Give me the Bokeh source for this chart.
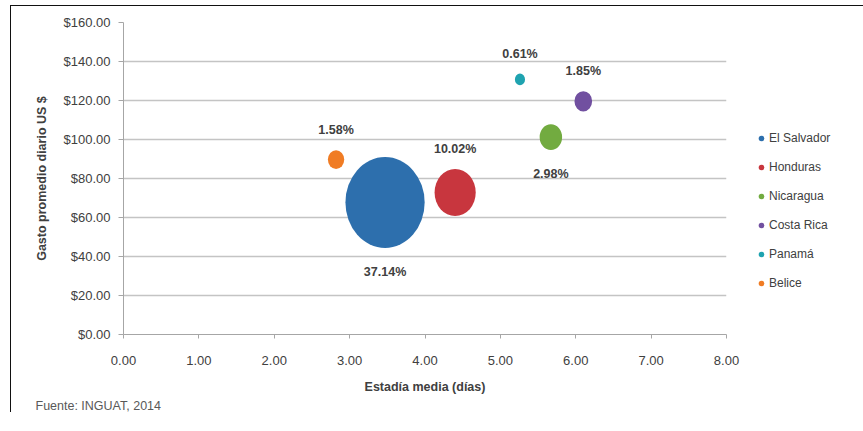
from bokeh.plotting import figure
from bokeh.models import (ColumnDataSource, NumeralTickFormatter, Legend, LegendItem,
                          Title, FixedTicker, Range1d)
from bokeh.embed import file_html
from bokeh.resources import INLINE
from bokeh.core.properties import value
import numpy as np

# ---- data ----
countries = ["El Salvador", "Honduras", "Nicaragua", "Costa Rica", "Panamá", "Belice"]
stay_days = [3.47, 4.40, 5.67, 6.10, 5.26, 2.82]          # Estadía media (días)
daily_spend = [67.7, 72.8, 101.2, 119.6, 130.8, 89.7]     # Gasto promedio diario US $
share_pct = [37.14, 10.02, 2.98, 1.85, 0.61, 1.58]        # bubble size (share %)
share_labels = ["37.14%", "10.02%", "2.98%", "1.85%", "0.61%", "1.58%"]
label_side = ["below", "above", "below", "above", "above", "above"]
colors = ["#2d6fad", "#c8363e", "#72ab40", "#7150a0", "#1fa3b0", "#f07c24"]

x_ticks = [0, 1, 2, 3, 4, 5, 6, 7, 8]
y_ticks = [0, 20, 40, 60, 80, 100, 120, 140, 160]

FONT = "Liberation Sans"

# bubble size scale (area proportional to share), screen pixels
share = np.array(share_pct)
bw = 13.0 * np.sqrt(share)
bh = 14.9 * np.sqrt(share)
yoff = [-(h / 2 + 20) if s == "above" else (h / 2 + 24) for h, s in zip(bh, label_side)]

src = ColumnDataSource(dict(x=stay_days, y=daily_spend, w=bw, h=bh, color=colors,
                            label=share_labels, yoff=yoff, name=countries,
                            zero=[0] * len(countries)))

p = figure(frame_width=603, frame_height=312, x_range=Range1d(0, 8), y_range=Range1d(0, 160),
           output_backend="svg", toolbar_location=None,
           min_border_left=112, min_border_right=128, min_border_top=16, min_border_bottom=30)
p.styles = {"border-left": "1.5px solid #111111", "border-top": "1.5px solid #111111",
            "margin-left": "10px", "margin-top": "5px"}
p.outline_line_color = None
p.background_fill_color = "white"
p.border_fill_color = "white"

# grid
p.xgrid.visible = False
p.ygrid.grid_line_color = "#c4c4c4"
p.ygrid.grid_line_width = 1.5
p.ygrid.ticker = FixedTicker(ticks=y_ticks)

# axes
p.xaxis.ticker = FixedTicker(ticks=x_ticks)
p.yaxis.ticker = FixedTicker(ticks=y_ticks)
p.xaxis.formatter = NumeralTickFormatter(format="0.00")
p.yaxis.formatter = NumeralTickFormatter(format="$0.00")
for ax in (p.xaxis[0], p.yaxis[0]):
    ax.axis_line_color = "#a6a6a6"
    ax.major_tick_line_color = "#a6a6a6"
    ax.minor_tick_line_color = None
    ax.major_tick_in = 0
    ax.major_label_text_font = FONT
    ax.major_label_text_font_size = "13px"
    ax.major_label_text_color = "#404040"
    ax.axis_label_text_font = FONT
    ax.axis_label_text_font_size = "12.5px"
    ax.axis_label_text_font_style = "bold"
    ax.axis_label_text_color = "#404040"
p.yaxis.major_tick_out = 5
p.yaxis.major_label_standoff = 8
p.yaxis.axis_label = "Gasto promedio diario US $"
p.yaxis.axis_label_standoff = 12
p.xaxis.major_tick_out = 4
p.xaxis.major_label_standoff = 17
p.xaxis.axis_label = "Estadía media (días)"
p.xaxis.axis_label_standoff = 12

# bubbles
p.ellipse(x="x", y="y", width="w", height="h", width_units="screen", height_units="screen",
          fill_color="color", line_color=None, source=src)

# data labels
p.text(x="x", y="y", text="label", y_offset="yoff", source=src,
       text_align="center", text_baseline="middle", text_font=value(FONT),
       text_font_style="bold", text_font_size="12.5px", text_color="#404040")

# legend (zero-size markers: legend draws its own small dots)
leg_r = p.scatter(x="x", y="y", size="zero", fill_color="color", line_color=None, source=src)
items = [LegendItem(label=c, renderers=[leg_r], index=i) for i, c in enumerate(countries)]
legend = Legend(items=items, location=(28, 41), padding=0, margin=0,
                border_line_color=None, background_fill_alpha=0,
                glyph_width=14, glyph_height=20, label_height=20, spacing=9,
                label_standoff=1, label_text_font=FONT, label_text_font_size="12px",
                label_text_color="#404040")
p.add_layout(legend, "right")

# source note
p.add_layout(Title(text="Fuente: INGUAT, 2014", align="left", offset=-88,
                   text_font=FONT, text_font_size="12.5px", text_font_style="normal",
                   text_color="#595959", standoff=0), "below")

open("out.html", "w").write(file_html(p, INLINE))
